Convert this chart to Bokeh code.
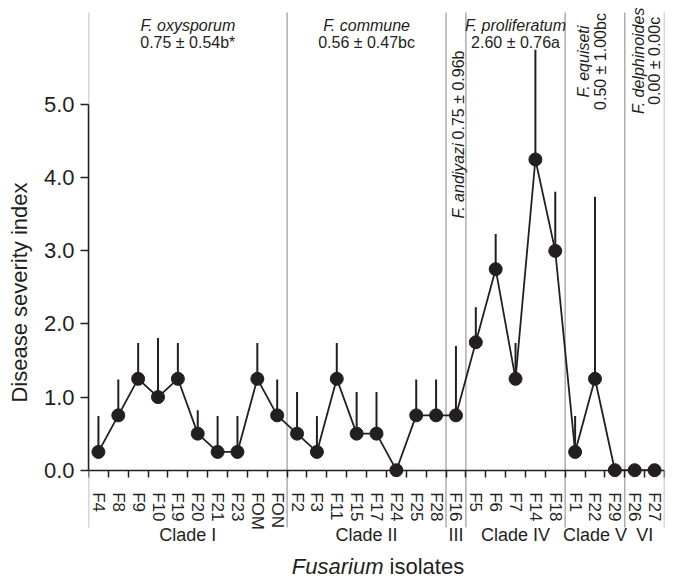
from math import pi
from bokeh.plotting import figure
from bokeh.models import (Range1d, FixedTicker, ColumnDataSource,
                          NumeralTickFormatter, CustomJSTickFormatter)
from bokeh.core.properties import value
from bokeh.embed import file_html
from bokeh.resources import INLINE

# ---------------- data ----------------
isolates = ["F4", "F8", "F9", "F10", "F19", "F20", "F21", "F23", "FOM", "FON",
            "F2", "F3", "F11", "F15", "F17", "F24", "F25", "F28",
            "F16",
            "F5", "F6", "F7", "F14", "F18",
            "F1", "F22", "F29",
            "F26", "F27"]
severity = [0.25, 0.75, 1.25, 1.00, 1.25, 0.50, 0.25, 0.25, 1.25, 0.75,
            0.50, 0.25, 1.25, 0.50, 0.50, 0.00, 0.75, 0.75,
            0.75,
            1.75, 2.75, 1.25, 4.25, 3.00,
            0.25, 1.25, 0.00,
            0.00, 0.00]
error = [0.49, 0.49, 0.49, 0.81, 0.49, 0.32, 0.49, 0.49, 0.49, 0.49,
         0.57, 0.49, 0.49, 0.57, 0.57, 0.00, 0.49, 0.49,
         0.95,
         0.48, 0.48, 0.49, 1.50, 0.81,
         0.49, 2.49, 0.00,
         0.00, 0.00]
clades = ["Clade I", "Clade II", "III", "Clade IV", "Clade V", "VI"]
clade_sizes = [10, 8, 1, 5, 3, 2]
species = ["F. oxysporum", "F. commune", "F. andiyazi", "F. proliferatum",
           "F. equiseti", "F. delphinoides"]
species_stats = ["0.75 ± 0.54b*", "0.56 ± 0.47bc", "0.75 ± 0.96b",
                 "2.60 ± 0.76a", "0.50 ± 1.00bc", "0.00 ± 0.00c"]
y_ticks = [0, 1, 2, 3, 4, 5]

# ---------------- derived ----------------
n = len(isolates)
centers = [i + 0.5 for i in range(n)]
tops = [s + e for s, e in zip(severity, error)]
bounds_ = [0]
for c in clade_sizes:
    bounds_.append(bounds_[-1] + c)
clade_centers = [(bounds_[i] + bounds_[i + 1]) / 2 for i in range(len(clades))]

DARK = "#231f20"
GRAY = "#adadad"
FONT = "Liberation Sans"
Y_TOP = 6.425
Y_BOT = -1.5636
SEP_TOP = 6.261
SEP_BOT = -0.784

p = figure(width=670, height=584, x_range=Range1d(0, n), y_range=Range1d(Y_BOT, Y_TOP),
           output_backend="svg", toolbar_location=None,
           min_border_left=88, min_border_right=6, min_border_top=0, min_border_bottom=0)
p.outline_line_color = None
p.xgrid.visible = False
p.ygrid.visible = False
p.background_fill_color = "white"

# x axis (drawn at y = 0 inside the frame)
xa = p.xaxis[0]
xa.fixed_location = 0
xa.ticker = FixedTicker(ticks=centers, minor_ticks=list(range(n + 1)))
xa.formatter = CustomJSTickFormatter(args=dict(names=isolates),
                                     code="return names[Math.round(tick - 0.5)];")
xa.major_tick_out = 0
xa.major_tick_in = 0
xa.minor_tick_out = 7
xa.minor_tick_in = 0
xa.minor_tick_line_color = DARK
xa.minor_tick_line_width = 1.5
xa.axis_line_color = DARK
xa.axis_line_width = 1.5
xa.major_label_orientation = "vertical"
xa.major_label_standoff = 15
xa.major_label_text_font = FONT
xa.major_label_text_font_size = "17px"
xa.major_label_text_color = DARK

# y axis
ya = p.yaxis[0]
ya.bounds = (0, 5)
ya.ticker = FixedTicker(ticks=y_ticks)
ya.formatter = NumeralTickFormatter(format="0.0")
ya.major_tick_out = 8
ya.major_tick_in = 0
ya.minor_tick_out = 0
ya.minor_tick_in = 0
ya.major_tick_line_color = DARK
ya.major_tick_line_width = 1.5
ya.axis_line_color = DARK
ya.axis_line_width = 1.5
ya.major_label_standoff = 6
ya.major_label_text_font = FONT
ya.major_label_text_font_size = "22px"
ya.major_label_text_color = DARK
ya.axis_label = "Disease severity index"
ya.axis_label_text_font = FONT
ya.axis_label_text_font_style = "normal"
ya.axis_label_text_font_size = "22px"
ya.axis_label_text_color = DARK
ya.axis_label_standoff = 9

# gray separators
p.segment(x0=bounds_, y0=[SEP_BOT] * len(bounds_), x1=bounds_, y1=[SEP_TOP] * len(bounds_),
          line_color=GRAY, line_width=1.5, level="underlay")

# data marks
src = ColumnDataSource(dict(x=centers, y=severity, top=tops))
p.segment(x0="x", y0="y", x1="x", y1="top", source=src, line_color=DARK, line_width=2)
p.line(x="x", y="y", source=src, line_color=DARK, line_width=1.8)
p.scatter(x="x", y="y", source=src, size=13, fill_color=DARK, line_color=DARK)

# species annotations (horizontal)
for idx in (0, 1, 3):
    p.text(x=[clade_centers[idx]], y=[6.083], text=[species[idx]],
           text_font=value(FONT), text_font_style="italic", text_font_size="16px",
           text_color=DARK, text_align="center", text_baseline="alphabetic")
    p.text(x=[clade_centers[idx]], y=[5.855], text=[species_stats[idx]],
           text_font=value(FONT), text_font_size="16px",
           text_color=DARK, text_align="center", text_baseline="alphabetic")

# F. andiyazi (vertical, one line)
p.text(x=[18.63], y=[3.443], text=[species[2]], angle=pi / 2,
       text_font=value(FONT), text_font_style="italic", text_font_size="16px",
       text_color=DARK, text_align="left", text_baseline="middle")
p.text(x=[18.63], y=[5.74], text=[species_stats[2]], angle=pi / 2,
       text_font=value(FONT), text_font_size="16px",
       text_color=DARK, text_align="right", text_baseline="middle")

# F. equiseti, F. delphinoides (vertical, two lines)
for idx, xs, yc in ((4, (24.92, 25.78), 5.59), (5, (27.69, 28.50), 5.60)):
    p.text(x=[xs[0]], y=[yc], text=[species[idx]], angle=pi / 2,
           text_font=value(FONT), text_font_style="italic", text_font_size="16px",
           text_color=DARK, text_align="center", text_baseline="middle")
    p.text(x=[xs[1]], y=[yc], text=[species_stats[idx]], angle=pi / 2,
           text_font=value(FONT), text_font_size="16px",
           text_color=DARK, text_align="center", text_baseline="middle")

# clade labels
p.text(x=clade_centers, y=[-0.893] * len(clades), text=clades,
       text_font=value(FONT), text_font_size="18px", text_color=DARK,
       text_align="center", text_baseline="middle")

# x-axis title
p.text(x=[14.85], y=[-1.317], text=["Fusarium"], text_font=value(FONT),
       text_font_style="italic", text_font_size="22px", text_color=DARK,
       text_align="right", text_baseline="middle")
p.text(x=[15.16], y=[-1.317], text=["isolates"], text_font=value(FONT),
       text_font_size="22px", text_color=DARK,
       text_align="left", text_baseline="middle")

open("out.html", "w").write(file_html(p, INLINE))
